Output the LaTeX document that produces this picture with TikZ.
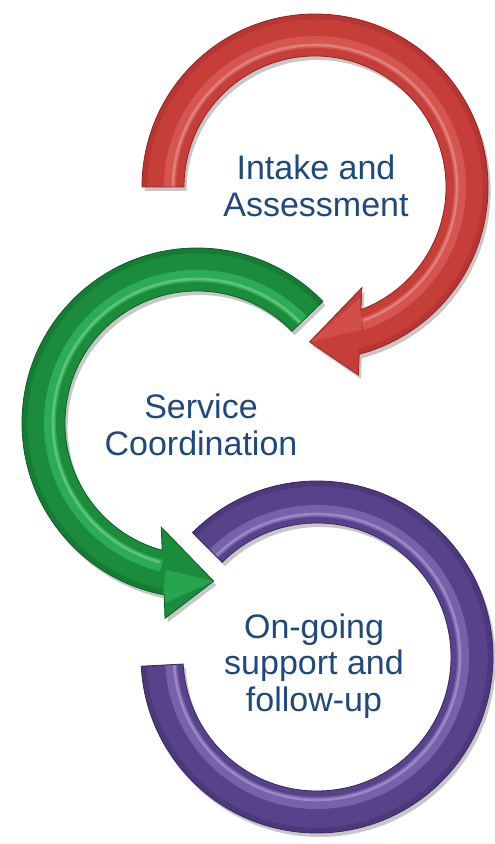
\documentclass[tikz,border=0pt]{standalone}
\usepackage{fontspec}
\setmainfont{Liberation Sans}
\usetikzlibrary{shadows}
\definecolor{redM}{RGB}{198,62,58}
\definecolor{redD}{RGB}{150,34,32}
\definecolor{redL}{RGB}{226,104,98}
\definecolor{greenM}{RGB}{26,140,60}
\definecolor{greenD}{RGB}{10,96,38}
\definecolor{greenL}{RGB}{60,200,105}
\definecolor{purM}{RGB}{88,66,138}
\definecolor{purD}{RGB}{58,40,98}
\definecolor{purL}{RGB}{146,122,200}
\definecolor{txt}{RGB}{31,73,125}
\newcommand\redshape{(180:173) arc[start angle=180,end angle=-75.2,radius=173] -- (-77:193) -- (-92:155) -- (-65:111) -- (-69.5:131) arc[start angle=-69.5,end angle=180,radius=131] -- cycle}
\newcommand\greenshape{(44:175) arc[start angle=44,end angle=259.2,radius=175] -- (260.7:198) -- (276:159) -- (251:110) -- (254.7:132) arc[start angle=254.7,end angle=44,radius=132] -- cycle}
\newcommand\purshape{(135:176) arc[start angle=135,end angle=-177,radius=176] -- (-177:134) arc[start angle=-177,end angle=135,radius=134] -- cycle}
\tikzset{
  ringshadow/.style={drop shadow={shadow xshift=2pt,shadow yshift=-3pt,opacity=0.22,fill=black}},
  label/.style={text=txt,align=center,font=\fontsize{25.5pt}{27.5pt}\selectfont,inner sep=0pt}
}
\begin{document}
\begin{tikzpicture}[x=0.75pt,y=0.75pt]
\useasboundingbox (0,0) rectangle (495,844);
% purple ring
\begin{scope}[shift={(317,187)}]
  \fill[purM,ringshadow] \purshape;
  \begin{scope}
    \clip \purshape;
    \draw[purL,line width=9pt,opacity=0.55] (135:146) arc[start angle=135,end angle=-177,radius=146];
    \draw[white,line width=2pt,opacity=0.25] (135:143) arc[start angle=135,end angle=-177,radius=143];
    \draw[purD,line width=8pt,opacity=0.35] (135:176) arc[start angle=135,end angle=-177,radius=176];
  \end{scope}
  \draw[purD,line width=0.6pt] \purshape;
\end{scope}
% green arrow
\begin{scope}[shift={(197,421)}]
  \fill[greenM,ringshadow] \greenshape;
  \begin{scope}
    \clip \greenshape;
    \draw[greenL,line width=9pt,opacity=0.55] (44:147) arc[start angle=44,end angle=256,radius=147];
    \draw[white,line width=2pt,opacity=0.25] (44:144) arc[start angle=44,end angle=255,radius=144];
    \draw[greenD,line width=8pt,opacity=0.35] (44:175) arc[start angle=44,end angle=259.2,radius=175];
    \fill[greenL,opacity=0.4] (258:150) -- (276:159) -- (259:185) -- cycle;
  \end{scope}
  \draw[greenD,line width=0.6pt] \greenshape;
\end{scope}
% red arrow
\begin{scope}[shift={(315,657)}]
  \fill[redM,ringshadow] \redshape;
  \begin{scope}
    \clip \redshape;
    \draw[redL,line width=9pt,opacity=0.55] (180:145) arc[start angle=180,end angle=-71,radius=145];
    \draw[white,line width=2pt,opacity=0.25] (180:142) arc[start angle=180,end angle=-70,radius=142];
    \draw[redD,line width=8pt,opacity=0.3] (180:173) arc[start angle=180,end angle=-75.2,radius=173];
    \fill[redL,opacity=0.4] (-72:150) -- (-92:155) -- (-68:120) -- cycle;
  \end{scope}
  \draw[redD,line width=0.6pt] \redshape;
\end{scope}
% labels
\node[label] (t1) at (316,658) {Intake and\\Assessment};
\node[label] (t2) at (201,419) {Service\\Coordination};
\node[label] (t3) at (314,178) {On-going\\support and\\follow-up};
\end{tikzpicture}
\end{document}
